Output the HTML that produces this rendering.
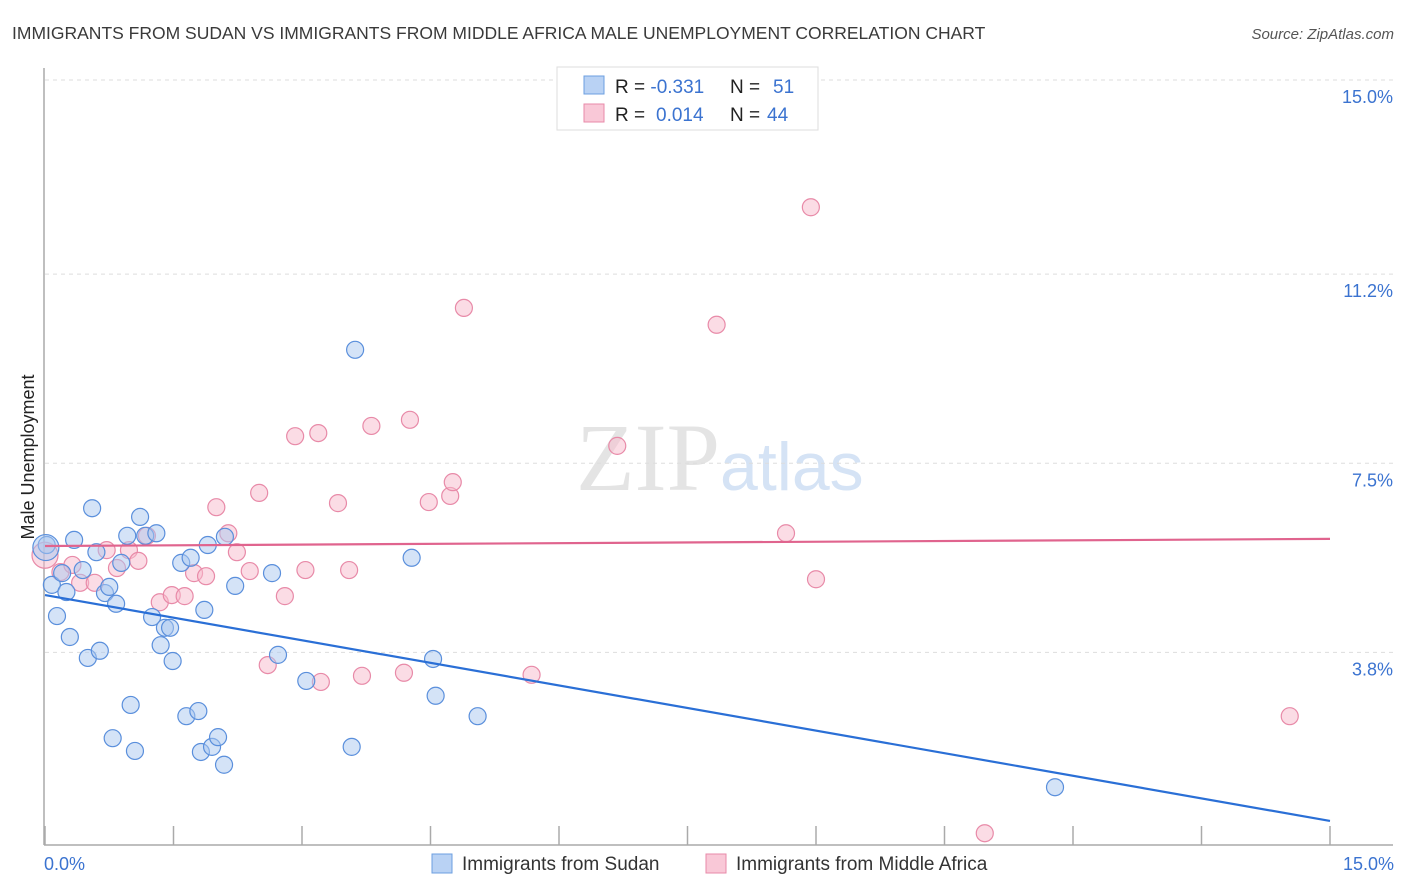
<!DOCTYPE html>
<html><head><meta charset="utf-8"><style>
body{margin:0;background:#fff;font-family:"Liberation Sans",sans-serif;}
svg{display:block}
</style></head><body>
<svg width="1406" height="892" id="c">
<text x="12" y="39" font-size="17.5" fill="#3a3a3a">IMMIGRANTS FROM SUDAN VS IMMIGRANTS FROM MIDDLE AFRICA MALE UNEMPLOYMENT CORRELATION CHART</text>
<text x="1394" y="39" font-size="15" fill="#555" font-style="italic" text-anchor="end">Source: ZipAtlas.com</text>
<text x="720" y="490" font-size="96" fill="#e4e4e4" font-family="Liberation Serif,serif" text-anchor="end">ZIP</text>
<text x="720" y="490" font-size="68" fill="#d5e3f5" text-anchor="start">atlas</text>
<g id="grid"></g><g id="ticks"></g>
<line x1="44" y1="68" x2="44" y2="845" stroke="#aaa" stroke-width="1.5"/>
<line x1="44" y1="845" x2="1393" y2="845" stroke="#aaa" stroke-width="1.5"/>
<text transform="translate(34,457) rotate(-90)" font-size="18" fill="#222" text-anchor="middle">Male Unemployment</text>
<text x="44" y="870" font-size="18" fill="#3b73d0">0.0%</text>
<text x="1394" y="870" font-size="18" fill="#3b73d0" text-anchor="end">15.0%</text>
<g id="pts"></g><g id="lines"></g>
<g>
<rect x="557" y="67" width="261" height="63" fill="#fff" stroke="#ddd"/>
<rect x="584" y="76" width="20" height="18" fill="#b9d2f4" stroke="#6c9fe0"/>
<rect x="584" y="104" width="20" height="18" fill="#f9c8d7" stroke="#e88aa8"/>
<text x="615" y="93" font-size="19" fill="#222">R = <tspan fill="#3b73d0">-0.331</tspan><tspan x="730">N = </tspan><tspan x="773" fill="#3b73d0">51</tspan></text>
<text x="615" y="121" font-size="19" fill="#222">R = <tspan x="656" fill="#3b73d0">0.014</tspan><tspan x="730">N = </tspan><tspan x="767" fill="#3b73d0">44</tspan></text>
</g>
<g>
<rect x="432" y="854" width="20" height="19" fill="#b9d2f4" stroke="#6c9fe0"/>
<text x="462" y="870" font-size="19" fill="#333">Immigrants from Sudan</text>
<rect x="706" y="854" width="20" height="19" fill="#f9c8d7" stroke="#e88aa8"/>
<text x="736" y="870" font-size="19" fill="#333">Immigrants from Middle Africa</text>
</g>
</svg>
<script>
const yTicks=[15.0,11.2,7.5,3.8];
const yTickLabels=["15.0%","11.2%","7.5%","3.8%"];
const sudanX=[0.02,0.08,0.14,0.20,0.25,0.29,0.34,0.44,0.50,0.55,0.60,0.64,0.70,0.75,0.83,0.89,0.96,1.00,0.79,1.05,1.11,1.17,1.25,1.30,1.35,1.40,1.46,1.49,1.59,1.65,1.70,1.79,1.82,1.86,1.90,1.95,2.02,2.09,2.10,2.22,2.65,2.72,3.05,3.58,3.62,4.28,4.53,4.56,5.05,11.79,0.01];
const sudanY=[5.90,5.12,4.51,5.35,4.98,4.10,6.00,5.41,3.69,6.62,5.76,3.83,4.96,5.08,4.75,5.55,6.08,2.77,2.12,1.87,6.45,6.08,4.49,6.13,3.94,4.28,4.28,3.63,5.55,2.55,5.65,2.65,1.85,4.63,5.90,1.95,2.14,1.60,6.06,5.10,5.35,3.75,3.24,1.95,9.72,5.65,3.67,2.95,2.55,1.16,5.85];
const afrX=[0.00,0.18,0.32,0.41,0.58,0.72,0.84,0.98,1.09,1.19,1.34,1.48,1.63,1.74,1.88,2.00,2.14,2.24,2.39,2.50,2.60,2.80,2.92,3.04,3.19,3.22,3.42,3.55,3.70,3.81,4.19,4.26,4.48,4.73,4.76,4.89,5.68,6.68,7.84,8.65,8.94,9.00,10.97,14.53];
const afrY=[5.70,5.37,5.51,5.16,5.16,5.80,5.45,5.80,5.59,6.08,4.78,4.92,4.90,5.35,5.29,6.64,6.13,5.76,5.39,6.92,3.55,4.90,8.03,5.41,8.09,3.22,6.72,5.41,3.34,8.23,3.40,8.35,6.74,6.86,7.13,10.54,3.36,7.84,10.21,6.13,12.51,5.23,0.26,2.55];
const sudanTrend=[4.92,0.50];
const afrTrend=[5.88,6.02];
const xTickVals=[0,1.5,3,4.5,6,7.5,9,10.5,12,13.5,15];
const NS="http://www.w3.org/2000/svg";
function sx(v){return 45+v*1285/15;}
function sy(v){return 80+(15-v)*51.1;}
function mk(t,a,p){const e=document.createElementNS(NS,t);for(const k in a)e.setAttribute(k,a[k]);p.appendChild(e);return e;}
const grid=document.getElementById('grid');
yTicks.forEach((t,i)=>{
 const l=mk('line',{x1:45,x2:1393,y1:sy(t),y2:sy(t),stroke:'#ddd','stroke-dasharray':'4,4'},grid);
 
 
 const tx=mk('text',{x:1393,y:sy(t)+23,'font-size':18,fill:'#3b73d0','text-anchor':'end'},grid);
 tx.textContent=yTickLabels[i];
 
 
});
const ticks=document.getElementById('ticks');
xTickVals.forEach(v=>{
 const l=mk('line',{x1:sx(v),x2:sx(v),y1:826,y2:845,stroke:'#aaa','stroke-width':1.5},ticks);
 
 
});
const pts=document.getElementById('pts');
function dots(X,Y,fill,stroke,name){
 X.forEach((x,i)=>{
  const r=(i===X.length-1&&name==='sudan-point')||(i===0&&name==='middle-africa-point')?13:8.5;
  const c=mk('circle',{cx:sx(x),cy:sy(Y[i]),r:r,fill:fill,'fill-opacity':0.5,stroke:stroke,'stroke-width':1.2},pts);
  
  
 });
}
dots(afrX,afrY,'#f7b9cc','#e88aa8','middle-africa-point');
dots(sudanX,sudanY,'#a9c8f0','#5a8fdc','sudan-point');
const lines=document.getElementById('lines');
const l1=mk('line',{x1:sx(0),x2:sx(15),y1:sy(sudanTrend[0]),y2:sy(sudanTrend[1]),stroke:'#2a6fd6','stroke-width':2.2},lines);


const l2=mk('line',{x1:sx(0),x2:sx(15),y1:sy(afrTrend[0]),y2:sy(afrTrend[1]),stroke:'#e0648e','stroke-width':2.2},lines);


</script>
</body></html>
